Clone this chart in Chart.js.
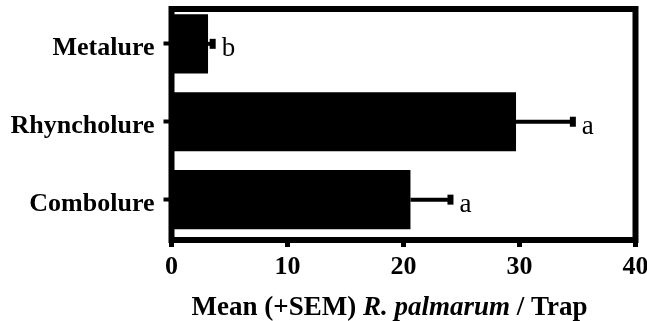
<!DOCTYPE html>
<html>
<head>
<meta charset="utf-8">
<script src="https://cdn.jsdelivr.net/npm/chart.js@4"></script>
<style>
    body { margin: 0; background: #fff; }
    .chart-wrap { width: 647px; height: 321px; position: relative; }
</style>
</head>
<body>
<div class="chart-wrap"><canvas id="lureChart"></canvas></div>
<script>
// data
var categories = ['Metalure', 'Rhyncholure', 'Combolure'];
var means = [3.15, 29.7, 20.6];
var sems = [0.4, 4.9, 3.45];
var letters = ['b', 'a', 'a'];
var xTicks = [0, 10, 20, 30, 40];
var titleParts = [
    { text: 'Mean (+SEM) ', italic: false },
    { text: 'R. palmarum', italic: true },
    { text: ' / Trap', italic: false }
];

var serif = "'Times New Roman', 'Liberation Serif', serif";

// box round the plot, error bars and letters
var extrasPlugin = {
    id: 'extras',
    afterDatasetsDraw: function(chart) {
        var ctx = chart.ctx;
        var area = chart.chartArea;
        var x = chart.scales.x;
        var y = chart.scales.y;

        ctx.save();
        ctx.fillStyle = '#000';
        ctx.strokeStyle = '#000';

        for (var i = 0; i < means.length; i++) {
            var yc = y.getPixelForValue(i);
            var x0 = x.getPixelForValue(means[i]);
            var x1 = x.getPixelForValue(means[i] + sems[i]);
            ctx.lineWidth = 4;
            ctx.beginPath();
            ctx.moveTo(x0, yc);
            ctx.lineTo(x1, yc);
            ctx.stroke();
            ctx.fillRect(x1 - 3, yc - 5, 6, 10);

            ctx.font = '27px ' + serif;
            ctx.textAlign = 'left';
            ctx.textBaseline = 'alphabetic';
            ctx.fillText(letters[i], x1 + 9, yc + 12);
        }

        ctx.lineWidth = 6;
        ctx.strokeRect(area.left, area.top, area.right - area.left, area.bottom - area.top);
        ctx.restore();
    },
    afterDraw: function(chart) {
        // axis title with italic species name
        var ctx = chart.ctx;
        var area = chart.chartArea;
        ctx.save();
        ctx.fillStyle = '#000';
        ctx.textBaseline = 'alphabetic';
        ctx.textAlign = 'left';
        var total = 0;
        titleParts.forEach(function(p) {
            ctx.font = (p.italic ? 'italic ' : '') + 'bold 27px ' + serif;
            total += ctx.measureText(p.text).width;
        });
        var cx = (area.left + area.right) / 2 - 14;
        var xPos = cx - total / 2;
        titleParts.forEach(function(p) {
            ctx.font = (p.italic ? 'italic ' : '') + 'bold 27px ' + serif;
            ctx.fillText(p.text, xPos, 315);
            xPos += ctx.measureText(p.text).width;
        });
        ctx.restore();
    }
};

document.addEventListener('DOMContentLoaded', function() {
    var ctx = document.getElementById('lureChart').getContext('2d');

    var points = means.map(function(m, i) { return { x: m, y: i }; });

    new Chart(ctx, {
        type: 'bar',
        data: {
            labels: categories,
            datasets: [{
                data: points,
                backgroundColor: '#000',
                borderWidth: 0,
                barPercentage: 0.76,
                categoryPercentage: 1
            }]
        },
        options: {
            indexAxis: 'y',
            responsive: true,
            maintainAspectRatio: false,
            animation: false,
            layout: { autoPadding: false, padding: { top: 9, right: 11.5, left: 0, bottom: 0 } },
            plugins: {
                legend: { display: false },
                tooltip: { enabled: false }
            },
            scales: {
                x: {
                    type: 'linear',
                    min: xTicks[0],
                    max: xTicks[xTicks.length - 1],
                    afterBuildTicks: function(scale) {
                        scale.ticks = xTicks.map(function(v) { return { value: v }; });
                    },
                    afterFit: function(scale) {
                        scale.height = 81;
                        scale.paddingLeft = 0;
                        scale.paddingRight = 0;
                    },
                    border: { display: false },
                    grid: {
                        drawOnChartArea: false,
                        drawTicks: true,
                        tickLength: 7,
                        tickWidth: 5,
                        tickColor: '#000'
                    },
                    ticks: {
                        color: '#000',
                        padding: 5,
                        maxRotation: 0,
                        font: { family: serif, size: 26, weight: 'bold' }
                    }
                },
                y: {
                    type: 'linear',
                    reverse: true,
                    offset: false,
                    min: -0.447,
                    max: 2.518,
                    afterBuildTicks: function(scale) {
                        scale.ticks = categories.map(function(c, i) { return { value: i }; });
                    },
                    afterFit: function(scale) {
                        scale.width = 171.5;
                        scale.paddingTop = 0;
                        scale.paddingBottom = 0;
                    },
                    border: { display: false },
                    grid: {
                        offset: false,
                        drawOnChartArea: false,
                        drawTicks: true,
                        tickLength: 8,
                        tickWidth: 4,
                        tickColor: '#000'
                    },
                    ticks: {
                        color: '#000',
                        padding: 9,
                        labelOffset: 4.5,
                        font: { family: serif, size: 26, weight: 'bold' },
                        callback: function(value) { return categories[value]; }
                    }
                }
            }
        },
        plugins: [extrasPlugin]
    });
});
</script>
</body>
</html>
